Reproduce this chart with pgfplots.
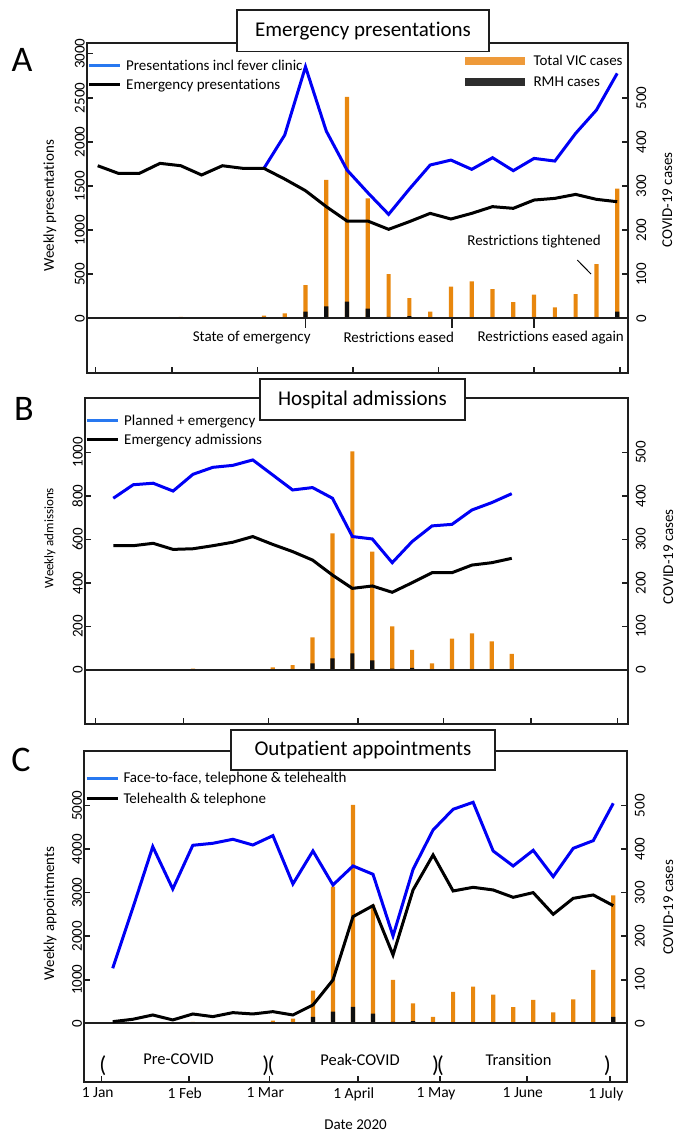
\documentclass[border=0pt]{standalone}
\usepackage{fontspec}
\setmainfont{Carlito}[Ligatures={TeX,NoCommon}]
\usepackage{pgfplots}
\usepackage{pgfplotstable}
\pgfplotsset{compat=1.18}

\definecolor{lineblue}{RGB}{0,0,245}
\definecolor{legblue}{RGB}{40,120,240}
\definecolor{vicorange}{RGB}{232,135,14}
\definecolor{legorange}{RGB}{238,154,58}
\definecolor{rmhblack}{RGB}{15,15,15}
\definecolor{legblack}{RGB}{45,45,45}
\definecolor{frame}{RGB}{30,30,30}

% weekly COVID-19 cases (week index, Victoria total, RMH)
\pgfplotstableread{
wk total rmh
5 3 0
9 6 0
10 11 0
11 75 15
12 314 27
13 502 38
14 272 22
15 100 3
16 46 5
17 15 0
18 72 0
19 84 0
20 66 0
21 37 0
22 54 0
23 25 0
24 55 0
25 123 2
26 294 15
}\vicdata

% A: emergency presentations
\pgfplotstableread{
wk emerg pres
1 1730 nan
2 1643 nan
3 1643 nan
4 1757 nan
5 1730 nan
6 1625 nan
7 1730 nan
8 1700 nan
9 1700 1700
10 1579 2078
11 1447 2852
12 1266 2123
13 1103 1681
14 1103 1424
15 1009 1179
16 1096 1466
17 1190 1738
18 1126 1794
19 1190 1689
20 1266 1821
21 1247 1674
22 1341 1813
23 1360 1783
24 1405 2097
25 1349 2361
26 1322 2777
}\edtable

% B: hospital admissions
\pgfplotstableread{
wk planned emerg
1 789 571
2 851 571
3 858 582
4 822 554
5 899 557
6 931 571
7 940 587
8 965 613
9 896 577
10 827 544
11 838 505
12 789 436
13 613 375
14 602 386
15 493 357
16 590 401
17 662 447
18 669 447
19 735 482
20 769 493
21 810 513
}\admtable

% C: outpatient appointments
\pgfplotstableread{
wk total tele
1 1263 38
2 2642 92
3 4058 191
4 3086 77
5 4089 214
6 4135 153
7 4227 245
8 4096 214
9 4311 268
10 3201 191
11 3959 421
12 3178 995
13 3614 2450
14 3423 2703
15 2006 1570
16 3538 3063
17 4441 3867
18 4916 3040
19 5077 3124
20 3959 3063
21 3614 2894
22 3974 3002
23 3369 2504
24 4020 2871
25 4196 2948
26 5054 2703
}\optable

\newcommand{\fs}[1]{\fontsize{#1}{#1}\selectfont}

\pgfplotsset{
  common/.style={
    scale only axis, anchor=south west,
    font=\fs{15},
    axis line style={frame, line width=2pt},
    tick align=inside, major tick length=6pt,
    tick style={frame, line width=1.5pt},
    /pgf/number format/assume math mode=true,
    /pgf/number format/1000 sep={},
  },
  lineax/.style={common,
    xtick pos=bottom, ytick pos=left,
    yticklabel style={rotate=90, anchor=south, inner sep=2pt},
    ylabel style={rotate=0, anchor=center},
    legend cell align=left,
    legend image code/.code={\draw[##1] (0pt,0pt) -- (31pt,0pt);},
    legend style={draw=none, fill=none, at={(rel axis cs:0,1)}, anchor=north west,
      inner sep=0pt, xshift=0.5pt, yshift=-15pt, row sep=4pt, column sep=3pt,
      nodes={inner sep=1.5pt}, font=\fs{15}},
  },
  barax/.style={common,
    axis x line=none, axis y line*=right,
    ytick={0,100,...,500},
    yticklabel style={rotate=90, anchor=north, inner sep=8pt},
    ylabel={COVID-19 cases},
    ylabel style={rotate=0, anchor=center},
    legend cell align=left,
    legend image code/.code={\draw[##1] (0pt,0pt) -- (60pt,0pt);},
    legend style={draw=none, fill=none, at={(rel axis cs:1,1)}, anchor=north east,
      inner sep=0pt, xshift=-4pt, yshift=-10pt, row sep=6.5pt, column sep=3pt,
      nodes={inner sep=1.5pt}, font=\fs{15}},
  },
  vicbar/.style={ybar, bar width=4.2pt, bar shift=0pt, draw=none, forget plot},
}

\begin{document}
\begin{tikzpicture}
\path[use as bounding box] (0,0) rectangle (675pt,-1135pt);

%================ A ================
\begin{axis}[barax, at={(87pt,-373pt)}, width=541.3pt, height=329.7pt,
  xmin=0.485, xmax=26.535, ymin=-124, ymax=623.6,
  ylabel style={at={(axis description cs:1.072,0.525)}}]
\addplot[vicbar, fill=vicorange] table[x=wk, y=total] {\vicdata};
\addplot[vicbar, fill=rmhblack] table[x=wk, y=rmh] {\vicdata};
\addlegendimage{legorange, line width=8pt}
\addlegendentry{Total VIC cases}
\addlegendimage{legblack, line width=8pt}
\addlegendentry{RMH cases}
\end{axis}

\begin{axis}[lineax, at={(87pt,-373pt)}, width=541.3pt, height=329.7pt,
  xmin=0.485, xmax=26.535, ymin=-620, ymax=3118,
  xtick={0.894,4.576,8.70,13.29,17.41,22.0,26.13}, xticklabels={},
  ytick={0,500,...,3000},
  ylabel={Weekly presentations},
  ylabel style={at={(axis description cs:-0.0684,0.507)}}]
\addlegendimage{legblue, line width=3pt}
\addlegendentry{Presentations incl fever clinic}
\addlegendimage{black, line width=3pt}
\addlegendentry{Emergency presentations}
\draw[frame, line width=2pt] ({rel axis cs:0,0}|-{axis cs:1,0}) -- ({rel axis cs:1,0}|-{axis cs:1,0});
\addplot[lineblue, line width=3pt, forget plot] table[x=wk, y=pres] {\edtable};
\addplot[black, line width=3pt, forget plot] table[x=wk, y=emerg] {\edtable};
\draw[frame, line width=1.5pt] (axis cs:11.01,0) -- ++(0pt,-10pt);
\draw[frame, line width=1.5pt] (axis cs:18.04,0) -- ++(0pt,-10pt);
\draw[frame, line width=1.5pt] (axis cs:22.0,0) -- ++(0pt,-10pt);
\node[font=\fs{15}] at (axis cs:8.41,-218) {State of emergency};
\node[font=\fs{15}] at (axis cs:15.49,-218) {Restrictions eased};
\node[font=\fs{15}] at (axis cs:22.80,-218) {Restrictions eased again};
\node[font=\fs{15}] at (axis cs:22.0,866) {Restrictions tightened};
\draw[black, line width=1pt] (axis cs:24.08,661) -- (axis cs:24.74,502);
\end{axis}

%================ B ================
\begin{axis}[barax, at={(85pt,-724pt)}, width=542.7pt, height=325.7pt,
  xmin=-0.421, xmax=26.82, ymin=-124, ymax=624,
  ylabel style={at={(axis description cs:1.0748,0.514)}}]
\addplot[vicbar, fill=vicorange, restrict x to domain=0:21] table[x=wk, y=total] {\vicdata};
\addplot[vicbar, fill=rmhblack, restrict x to domain=0:21] table[x=wk, y=rmh] {\vicdata};
\end{axis}

\begin{axis}[lineax, at={(85pt,-724pt)}, width=542.7pt, height=325.7pt,
  xmin=-0.421, xmax=26.82, ymin=-248, ymax=1248,
  xtick={0.116,4.514,8.78,13.27,17.57,21.97,26.30}, xticklabels={},
  ytick={0,200,...,1000},
  ylabel={Weekly admissions},
  ylabel style={font=\fs{13}, at={(axis description cs:-0.0645,0.571)}}]
\addlegendimage{legblue, line width=3pt}
\addlegendentry{Planned + emergency}
\addlegendimage{black, line width=3pt}
\addlegendentry{Emergency admissions}
\draw[frame, line width=2pt] ({rel axis cs:0,0}|-{axis cs:1,0}) -- ({rel axis cs:1,0}|-{axis cs:1,0});
\addplot[lineblue, line width=3pt, forget plot] table[x=wk, y=planned] {\admtable};
\addplot[black, line width=3pt, forget plot] table[x=wk, y=emerg] {\admtable};
\end{axis}

%================ C ================
\begin{axis}[barax, at={(84.3pt,-1081.7pt)}, width=542.4pt, height=330.7pt,
  xmin=-0.419, xmax=26.67, ymin=-134.2, ymax=625.5,
  ylabel style={at={(axis description cs:1.0767,0.527)}}]
\addplot[vicbar, fill=vicorange] table[x=wk, y=total] {\vicdata};
\addplot[vicbar, fill=rmhblack] table[x=wk, y=rmh] {\vicdata};
\end{axis}

\begin{axis}[lineax, at={(84.3pt,-1081.7pt)}, width=542.4pt, height=330.7pt,
  xmin=-0.419, xmax=26.67, ymin=-1342, ymax=6255,
  xtick={0.45,4.80,8.82,13.24,17.35,21.68,25.83},
  xticklabels={1 Jan,1 Feb,1 Mar,1 April,1 May,1 June,1 July},
  xticklabel style={font=\fs{15.5}, xshift=-4pt, yshift=-2pt},
  ytick={0,1000,...,5000},
  ylabel={Weekly appointments},
  ylabel style={at={(axis description cs:-0.0632,0.509)}},
  xlabel={Date 2020},
  xlabel style={at={(axis description cs:0.5,-0.131)}, anchor=center},
  legend style={yshift=-4.6pt, row sep=5.5pt}]
\addlegendimage{legblue, line width=3pt}
\addlegendentry{Face-to-face, telephone \& telehealth}
\addlegendimage{black, line width=3pt}
\addlegendentry{Telehealth \& telephone}
\draw[frame, line width=2pt] ({rel axis cs:0,0}|-{axis cs:1,0}) -- ({rel axis cs:1,0}|-{axis cs:1,0});
\addplot[lineblue, line width=3pt, forget plot] table[x=wk, y=total] {\optable};
\addplot[black, line width=3pt, forget plot] table[x=wk, y=tele] {\optable};
\node[font=\fs{23}, inner sep=0pt] at (axis cs:0.505,-981) {(};
\node[font=\fs{23}, inner sep=0pt] at (axis cs:8.647,-981) {)};
\node[font=\fs{23}, inner sep=0pt] at (axis cs:8.912,-981) {(};
\node[font=\fs{23}, inner sep=0pt] at (axis cs:17.13,-981) {)};
\node[font=\fs{23}, inner sep=0pt] at (axis cs:17.36,-981) {(};
\node[font=\fs{23}, inner sep=0pt] at (axis cs:25.71,-981) {)};
\node[font=\fs{16.5}] at (axis cs:4.29,-830) {Pre-COVID};
\node[font=\fs{16.5}] at (axis cs:13.35,-830) {Peak-COVID};
\node[font=\fs{16.5}] at (axis cs:21.27,-830) {Transition};
\end{axis}

%================ titles and panel letters ================
\begin{scope}[every node/.style={draw=frame, line width=1.5pt, fill=white, inner sep=0pt, font=\fs{21}}]
\node[minimum width=252pt, minimum height=41.7pt] at (363pt,-30.8pt) {Emergency presentations};
\node[minimum width=205pt, minimum height=41pt] at (362.5pt,-399.5pt) {Hospital admissions};
\node[minimum width=264pt, minimum height=40pt] at (363pt,-750pt) {Outpatient appointments};
\end{scope}
\node[font=\fs{36}] at (22pt,-60pt) {A};
\node[font=\fs{36}] at (24pt,-408.5pt) {B};
\node[font=\fs{36}] at (21pt,-760pt) {C};
\end{tikzpicture}
\end{document}
